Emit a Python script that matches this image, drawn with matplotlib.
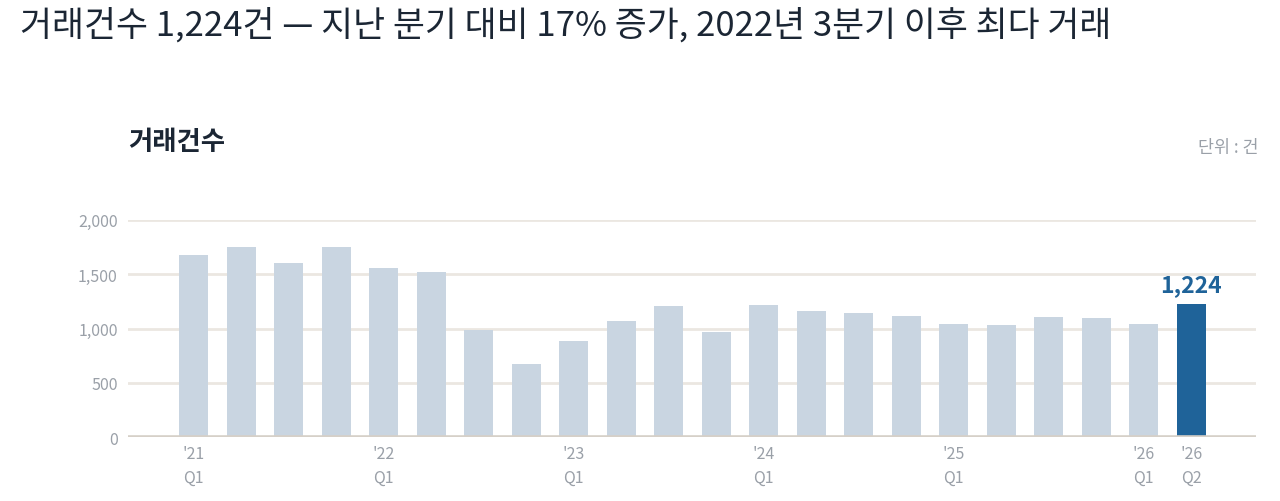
import matplotlib
matplotlib.use("Agg")
import matplotlib.pyplot as plt
from matplotlib.ticker import FuncFormatter

plt.rcParams['font.family'] = ['Noto Sans CJK KR', 'DejaVu Sans']

# ---- data ----
years = ["'21", "'21", "'21", "'21", "'22", "'22", "'22", "'22",
         "'23", "'23", "'23", "'23", "'24", "'24", "'24", "'24",
         "'25", "'25", "'25", "'25", "'26", "'26"]
quarters = ["Q1", "Q2", "Q3", "Q4"] * 5 + ["Q1", "Q2"]
values = [1675, 1745, 1598, 1752, 1553, 1522, 987, 678, 887, 1071, 1209,
          972, 1217, 1159, 1141, 1116, 1043, 1034, 1104, 1095, 1043, 1224]
labeled_idx = [0, 4, 8, 12, 16, 20, 21]
highlight_idx = 21
yticks = [0, 500, 1000, 1500, 2000]

title = "거래건수 1,224건 — 지난 분기 대비 17% 증가, 2022년 3분기 이후 최다 거래"
subtitle = "거래건수"
unit = "단위 : 건"

LIGHT = "#c9d5e1"
DARK = "#1f6399"
GRID = "#ebe7e1"
BASE = "#d6d0c8"
TICK = "#9aa0a8"
INK = "#1b2634"

W, H = 1280, 502
fig = plt.figure(figsize=(W / 100, H / 100), dpi=100)
fig.patch.set_facecolor("white")

ax = fig.add_axes([128.3 / W, 1 - 438.3 / H, (1255.6 - 128.3) / W, (438.3 - 220.7) / H])
x = list(range(len(values)))
colors = [DARK if i == highlight_idx else LIGHT for i in x]
ax.bar(x, values, width=0.61, color=colors, zorder=3)

ax.set_xlim(-1.379, len(values) - 1 + 1.352)
ax.set_ylim(0, 2000)
ax.set_yticks(yticks)
ax.yaxis.set_major_formatter(FuncFormatter(lambda v, p: f"{int(v):,}"))
ax.tick_params(axis="y", length=0, pad=7.6, labelsize=11.5, labelcolor=TICK)
ax.set_xticks([])
for s in ["top", "right", "left", "bottom"]:
    ax.spines[s].set_visible(False)
for t in yticks[1:]:
    ax.axhline(t, color=GRID, lw=2, zorder=1)
ax.axhline(0, color=BASE, lw=2.6, zorder=4)

for i in labeled_idx:
    ax.annotate(years[i], xy=(i, 0), xytext=(0, -12), textcoords="offset points",
                ha="center", va="center", fontsize=11.5, color=TICK)
    ax.annotate(quarters[i], xy=(i, 0), xytext=(0, -28.9), textcoords="offset points",
                ha="center", va="center", fontsize=11.5, color=TICK)

ax.annotate(f"{values[highlight_idx]:,}", xy=(highlight_idx, values[highlight_idx]),
            xytext=(0, 14), textcoords="offset points", ha="center", va="center",
            fontsize=16.5, fontweight="bold", color=DARK)

fig.text(20 / W, 1 - 25.5 / H, title, ha="left", va="center", fontsize=25,
         fontweight="medium", color=INK)
fig.text(128 / W, 1 - 143 / H, subtitle, ha="left", va="center", fontsize=19,
         fontweight="bold", color=INK)
fig.text(1258 / W, 1 - 148 / H, unit, ha="right", va="center", fontsize=12.5,
         color=TICK)

fig.savefig("out.png", dpi=100)
